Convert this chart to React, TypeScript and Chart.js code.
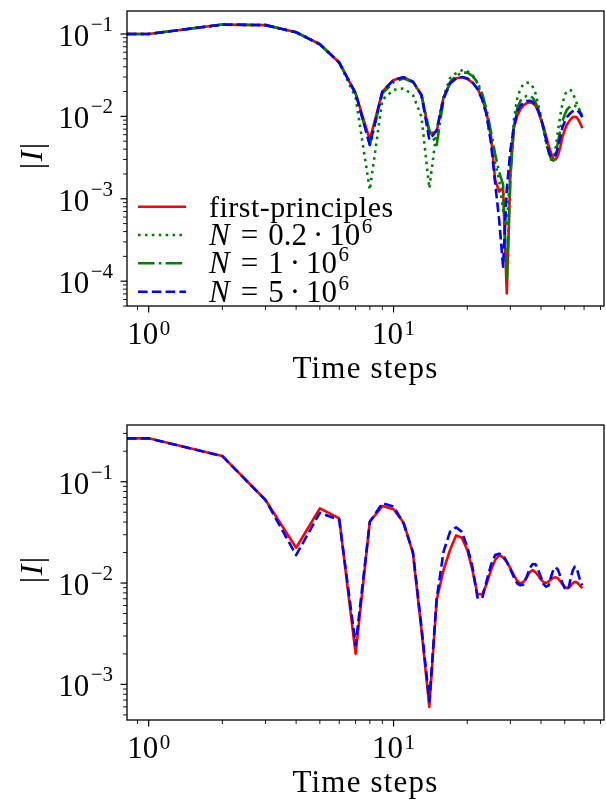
import React, { useEffect, useRef } from "react";
import { Chart, registerables } from "chart.js";
Chart.register(...registerables);

// ---------- data ----------
const steps = [
  0, 1, 2, 3, 4, 5, 6, 7, 8, 9, 10, 11, 12, 13, 14, 15, 16, 17, 18, 19,
  20, 21, 22, 23, 24, 25, 26, 27, 28, 29, 30, 31, 32, 33, 34, 35, 36, 37, 38, 39,
  40, 41, 42, 43, 44, 45, 46, 47, 48, 49, 50, 51, 52, 53, 54, 55, 56, 57, 58, 59,
];

const topFirstPrinciples = [
  0.1, 0.1, 0.13, 0.128, 0.105, 0.075, 0.045, 0.019, 0.0052, 0.02,
  0.0277, 0.0298, 0.0264, 0.0182, 0.0062, 0.0065, 0.017, 0.025, 0.029, 0.0298,
  0.0285, 0.0257, 0.0219, 0.0166, 0.0109, 0.0057, 0.0017, 0.00122, 0.00135, 0.000071,
  0.002, 0.0072, 0.0101, 0.0123, 0.0137, 0.0145, 0.0148, 0.0144, 0.0134, 0.0114,
  0.009, 0.0074, 0.0057, 0.0044, 0.0036, 0.003, 0.003, 0.0034, 0.0043, 0.0057,
  0.0068, 0.0079, 0.0086, 0.0093, 0.0098, 0.0099, 0.0097, 0.009, 0.0081, 0.0072,
];
const topN02 = [
  0.1, 0.1, 0.13, 0.128, 0.105, 0.075, 0.045, 0.017, 0.00128, 0.0158,
  0.021, 0.0218, 0.0182, 0.0099, 0.00134, 0.0068, 0.0174, 0.029, 0.0334, 0.0362,
  0.0352, 0.0318, 0.0252, 0.0173, 0.01, 0.0052, 0.0027, 0.0017, 0.00073, 0.00046,
  0.0022, 0.009, 0.0166, 0.0219, 0.0247, 0.0257, 0.0254, 0.0229, 0.019, 0.0137,
  0.01, 0.0068, 0.0047, 0.0036, 0.003, 0.003, 0.0043, 0.0068, 0.0104, 0.0144,
  0.0182, 0.02, 0.021, 0.0207, 0.019, 0.0166, 0.0144, 0.0126, 0.0114, 0.0095,
];
const topN1 = [
  0.1, 0.1, 0.13, 0.128, 0.105, 0.075, 0.045, 0.019, 0.0045, 0.019,
  0.026, 0.029, 0.026, 0.018, 0.0068, 0.0045, 0.016, 0.026, 0.031, 0.034,
  0.034, 0.031, 0.026, 0.019, 0.012, 0.0065, 0.0035, 0.0021, 0.0015, 0.0001,
  0.0018, 0.0075, 0.0125, 0.0155, 0.017, 0.0177, 0.0178, 0.0168, 0.0148, 0.0122,
  0.0095, 0.007, 0.005, 0.0037, 0.003, 0.0029, 0.0036, 0.005, 0.0068, 0.0088,
  0.0105, 0.012, 0.0128, 0.0134, 0.0137, 0.0135, 0.013, 0.0122, 0.0112, 0.0102,
];
const topN5 = [
  0.1, 0.1, 0.13, 0.128, 0.105, 0.075, 0.045, 0.019, 0.0045, 0.02,
  0.0277, 0.0298, 0.0264, 0.0182, 0.0052, 0.0068, 0.0165, 0.025, 0.029, 0.03,
  0.029, 0.026, 0.0215, 0.016, 0.0105, 0.0047, 0.00155, 0.00055, 0.00015, 0.0013,
  0.0039, 0.0075, 0.0115, 0.0135, 0.0146, 0.0153, 0.0155, 0.015, 0.0138, 0.0118,
  0.0095, 0.0072, 0.0052, 0.0038, 0.0032, 0.0032, 0.0034, 0.0043, 0.0057, 0.0074,
  0.0086, 0.0098, 0.0104, 0.0111, 0.0116, 0.0119, 0.0119, 0.0114, 0.0107, 0.0098,
];

const bottomFirstPrinciples = [
  0.268, 0.268, 0.179, 0.066, 0.0223, 0.0546, 0.0435, 0.002, 0.0403, 0.0575,
  0.0534, 0.0394, 0.0196, 0.00344, 0.0006, 0.0068, 0.0134, 0.0212, 0.0295, 0.028,
  0.0212, 0.0134, 0.0078, 0.0077, 0.0098, 0.0134, 0.0169, 0.0189, 0.0179, 0.0162,
  0.014, 0.012, 0.0105, 0.0099, 0.0103, 0.0114, 0.0128, 0.0134, 0.0128, 0.0118,
  0.0108, 0.0102, 0.01, 0.0104, 0.0109, 0.0113, 0.0114, 0.0111, 0.0104, 0.0097,
  0.0092, 0.0089, 0.009, 0.0095, 0.01, 0.0103, 0.0102, 0.0098, 0.0093, 0.0089,
];
const bottomN5 = [
  0.268, 0.268, 0.179, 0.066, 0.0189, 0.0494, 0.042, 0.00244, 0.0403, 0.0612,
  0.057, 0.0385, 0.0202, 0.0037, 0.00068, 0.007, 0.0204, 0.032, 0.0355, 0.032,
  0.0229, 0.0145, 0.0072, 0.007, 0.0105, 0.0151, 0.0189, 0.0195, 0.019, 0.0162,
  0.0137, 0.0114, 0.0099, 0.0095, 0.0097, 0.0116, 0.014, 0.0154, 0.0153, 0.0134,
  0.0114, 0.0097, 0.0092, 0.0095, 0.0116, 0.0137, 0.0143, 0.0134, 0.0116, 0.0099,
  0.0089, 0.0085, 0.0092, 0.0114, 0.0134, 0.0145, 0.014, 0.012, 0.0103, 0.0095,
];

const legendLabel0 = "first-principles";
const legendMantissas = ["0.2", "1", "5"];
const legendExponent = "6";
const xTickExponents = [0, 1];
const topYTickExponents = [-1, -2, -3, -4];
const bottomYTickExponents = [-1, -2, -3];
const xTitle = "Time steps";

// ---------- styling ----------
const FONT = "'Liberation Serif', 'Times New Roman', serif";
const X_MIN = 0.8155;
const X_MAX = 72.35;
const LW = 2.6;

const styles = {
  red: { borderColor: "#ff0000", borderDash: [] as number[] },
  dotted: { borderColor: "#008000", borderDash: [2.6, 4.3] },
  dashdot: { borderColor: "#008000", borderDash: [16.6, 4.2, 2.6, 4.2] },
  dashed: { borderColor: "#0000ff", borderDash: [9.6, 4.2] },
};

function ds(label: string, data: number[], st: any, order: number) {
  return {
    label,
    data,
    borderColor: st.borderColor,
    borderDash: st.borderDash,
    borderWidth: LW,
    borderJoinStyle: "round",
    borderCapStyle: "butt",
    pointRadius: 0,
    fill: false,
    tension: 0,
    order,
  };
}

function tickValues(min: number, max: number) {
  const out: { v: number; major: boolean; e: number }[] = [];
  const e0 = Math.floor(Math.log10(min));
  const e1 = Math.ceil(Math.log10(max));
  for (let e = e0; e <= e1; e++) {
    for (let m = 1; m <= 9; m++) {
      const v = m * Math.pow(10, e);
      if (v >= min * 0.9999 && v <= max * 1.0001) out.push({ v, major: m === 1, e });
    }
  }
  return out;
}

function setSpacing(ctx: any, px: number) {
  if ("letterSpacing" in ctx) ctx.letterSpacing = px + "px";
}

function drawPow(ctx: CanvasRenderingContext2D, exp: number, x: number, y: number, align: "center" | "right", rise: number) {
  const base = "10";
  const sup = exp < 0 ? "\u2212" + Math.abs(exp) : String(exp);
  setSpacing(ctx, 0);
  ctx.font = `31px ${FONT}`;
  const wb = ctx.measureText(base).width;
  ctx.font = `21px ${FONT}`;
  const ws = ctx.measureText(sup).width;
  const total = wb + 1.5 + ws;
  const x0 = align === "center" ? x - total / 2 : x - total;
  ctx.textAlign = "left";
  ctx.textBaseline = "alphabetic";
  ctx.font = `31px ${FONT}`;
  ctx.fillText(base, x0, y);
  ctx.font = `21px ${FONT}`;
  ctx.fillText(sup, x0 + wb + 1.5, y - rise);
}

function makeAxesPlugin(opts: { yExps: number[]; yLabelCenter: number; legend: boolean }) {
  return {
    id: "mplAxes",
    afterDraw(chart: any) {
      const ctx: CanvasRenderingContext2D = chart.ctx;
      const { left, right, top, bottom } = chart.chartArea;
      const xs = chart.scales.x;
      const ys = chart.scales.y;
      ctx.save();
      ctx.fillStyle = "#000";
      ctx.strokeStyle = "#000";
      // frame
      ctx.lineWidth = 1.3;
      ctx.setLineDash([]);
      ctx.strokeRect(left, top, right - left, bottom - top);
      // x ticks
      for (const t of tickValues(xs.min, xs.max)) {
        const px = xs.getPixelForValue(t.v);
        ctx.lineWidth = t.major ? 1.2 : 0.9;
        ctx.beginPath();
        ctx.moveTo(px, bottom);
        ctx.lineTo(px, bottom + (t.major ? 6.5 : 4));
        ctx.stroke();
      }
      // y ticks
      for (const t of tickValues(ys.min, ys.max)) {
        const py = ys.getPixelForValue(t.v);
        ctx.lineWidth = t.major ? 1.2 : 0.9;
        ctx.beginPath();
        ctx.moveTo(left, py);
        ctx.lineTo(left - (t.major ? 6.5 : 4), py);
        ctx.stroke();
      }
      // x tick labels
      for (const e of xTickExponents) {
        const px = xs.getPixelForValue(Math.pow(10, e));
        drawPow(ctx, e, px, bottom + 38, "center", 9);
      }
      // y tick labels
      for (const e of opts.yExps) {
        const py = ys.getPixelForValue(Math.pow(10, e));
        drawPow(ctx, e, 113, py + 12, "right", 15);
      }
      // x title
      ctx.font = `31px ${FONT}`;
      setSpacing(ctx, 1.2);
      ctx.textAlign = "center";
      ctx.textBaseline = "alphabetic";
      ctx.fillText(xTitle, (left + right) / 2, bottom + 72);
      setSpacing(ctx, 0);
      // y title |I|
      ctx.save();
      ctx.translate(42, opts.yLabelCenter);
      ctx.rotate(-Math.PI / 2);
      ctx.font = `32px ${FONT}`;
      const wBar = ctx.measureText("|").width;
      ctx.font = `italic 32px ${FONT}`;
      const wI = ctx.measureText("I").width;
      const tot = wBar * 2 + wI + 3;
      let x = -tot / 2;
      ctx.textAlign = "left";
      ctx.font = `32px ${FONT}`;
      ctx.fillText("|", x, 0);
      x += wBar + 1.5;
      ctx.font = `italic 32px ${FONT}`;
      ctx.fillText("I", x, 0);
      x += wI + 1.5;
      ctx.font = `32px ${FONT}`;
      ctx.fillText("|", x, 0);
      ctx.restore();
      // legend
      if (opts.legend) {
        const dss = chart.data.datasets;
        const rowBase = [216.7, 245, 273.3, 301.7];
        for (let i = 0; i < 4; i++) {
          const d = dss[i];
          const yb = rowBase[i];
          ctx.save();
          ctx.strokeStyle = d.borderColor;
          ctx.lineWidth = d.borderWidth;
          ctx.lineCap = "butt";
          ctx.setLineDash(d.borderDash);
          ctx.beginPath();
          ctx.moveTo(138, yb - 10);
          ctx.lineTo(186, yb - 10);
          ctx.stroke();
          ctx.restore();
          ctx.textAlign = "left";
          ctx.fillStyle = "#000";
          let tx = 209;
          if (i === 0) {
            ctx.font = `30px ${FONT}`;
            setSpacing(ctx, 0.5);
            ctx.fillText(legendLabel0, tx, yb);
            setSpacing(ctx, 0);
          } else {
            ctx.font = `italic 31px ${FONT}`;
            ctx.fillText("N", tx, yb);
            tx += ctx.measureText("N").width + 11;
            ctx.font = `31px ${FONT}`;
            ctx.fillText("=", tx, yb);
            tx += ctx.measureText("=").width + 10;
            const m = legendMantissas[i - 1];
            ctx.fillText(m, tx, yb);
            tx += ctx.measureText(m).width + 6;
            ctx.fillText("\u00b7", tx, yb);
            tx += ctx.measureText("\u00b7").width + 6;
            ctx.fillText("10", tx, yb);
            tx += ctx.measureText("10").width + 1.5;
            ctx.font = `21px ${FONT}`;
            ctx.fillText(legendExponent, tx, yb - 12);
          }
        }
      }
      ctx.restore();
    },
  };
}

function makeConfig(datasets: any[], yMin: number, yMax: number, padding: any, plugin: any) {
  return {
    type: "line",
    data: { labels: steps, datasets },
    options: {
      animation: false,
      responsive: false,
      devicePixelRatio: 1,
      events: [],
      layout: { padding },
      plugins: { legend: { display: false }, tooltip: { enabled: false } },
      scales: {
        x: { type: "logarithmic", display: false, min: X_MIN, max: X_MAX, bounds: "data" },
        y: { type: "logarithmic", display: false, min: yMin, max: yMax, bounds: "data" },
      },
    },
    plugins: [plugin],
  } as any;
}

export default function App() {
  const topRef = useRef<HTMLCanvasElement>(null);
  const botRef = useRef<HTMLCanvasElement>(null);

  useEffect(() => {
    const topCfg = makeConfig(
      [
        ds("first-principles", topFirstPrinciples, styles.red, 3),
        ds("N = 0.2e6", topN02, styles.dotted, 2),
        ds("N = 1e6", topN1, styles.dashdot, 1),
        ds("N = 5e6", topN5, styles.dashed, 0),
      ],
      5.0e-5,
      0.19,
      { left: 127, right: 2, top: 11, bottom: 94 },
      makeAxesPlugin({ yExps: topYTickExponents, yLabelCenter: 156, legend: true })
    );
    const botCfg = makeConfig(
      [
        ds("first-principles", bottomFirstPrinciples, styles.red, 1),
        ds("N = 5e6", bottomN5, styles.dashed, 0),
      ],
      4.45e-4,
      0.363,
      { left: 127, right: 2, top: 25, bottom: 80 },
      makeAxesPlugin({ yExps: bottomYTickExponents, yLabelCenter: 170, legend: false })
    );
    const c1 = new Chart(topRef.current as HTMLCanvasElement, topCfg);
    const c2 = new Chart(botRef.current as HTMLCanvasElement, botCfg);
    return () => {
      c1.destroy();
      c2.destroy();
    };
  }, []);

  return (
    <div style={{ position: "absolute", left: 0, top: 0, width: 606, height: 800, background: "#fff" }}>
      <canvas ref={topRef} width={606} height={400} style={{ position: "absolute", left: 0, top: 0 }} />
      <canvas ref={botRef} width={606} height={400} style={{ position: "absolute", left: 0, top: 400 }} />
    </div>
  );
}
